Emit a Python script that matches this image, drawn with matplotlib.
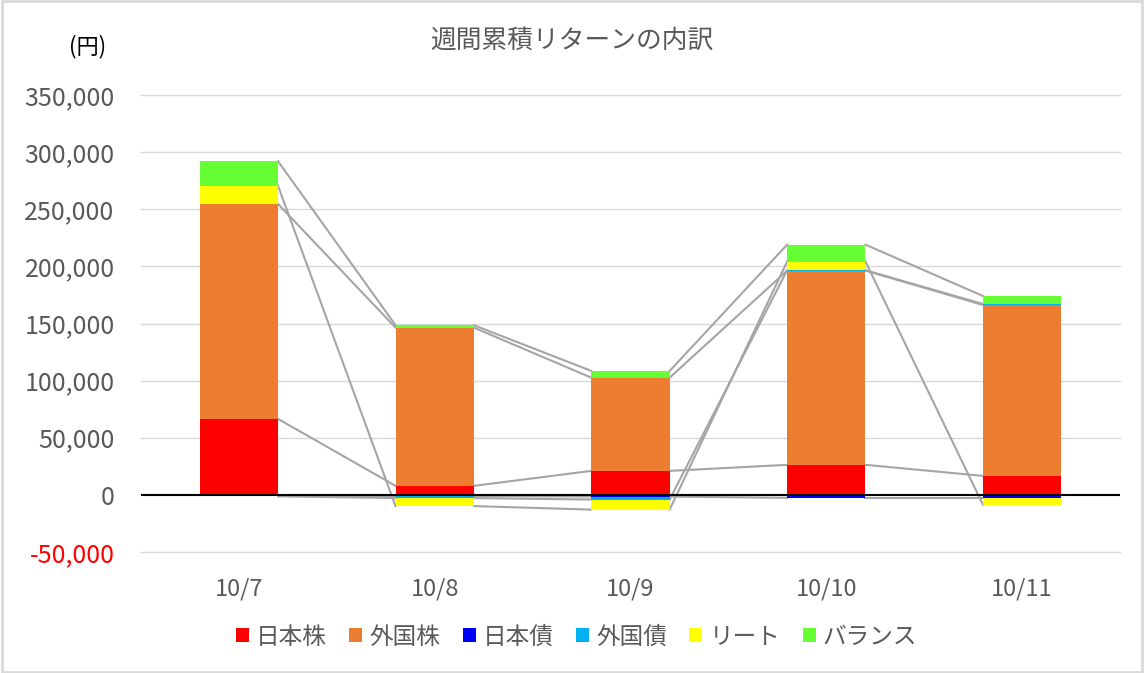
import matplotlib.pyplot as plt
import matplotlib.patches as patches
import matplotlib.ticker as mticker
import numpy as np

plt.rcParams['font.family'] = ['Noto Sans CJK JP', 'DejaVu Sans']

# data (円)
dates = ['10/7', '10/8', '10/9', '10/10', '10/11']
jp_stock = [66500, 7900, 21000, 26300, 16600]
fx_stock = [188100, 138500, 81600, 170000, 149600]
jp_bond = [-900, -1000, -1500, -2600, -2600]
fx_bond = [-400, -1800, -2600, 300, 900]
reit = [15800, -7000, -8800, 7600, -6000]
balance = [21600, 2100, 5900, 14800, 7000]

names = ['日本株', '外国株', '日本債', '外国債', 'リート', 'バランス']
series = [jp_stock, fx_stock, jp_bond, fx_bond, reit, balance]
colors = ['#FF0000', '#ED7D31', '#0000FF', '#00B0F0', '#FFFF00', '#66FF33']

fig = plt.figure(figsize=(11.44, 6.73), dpi=100)
ax = fig.add_axes([141/1144, 1-552/673, (1120-141)/1144, (552-95)/673])

x = np.arange(len(dates))
w = 0.4
pos = np.zeros(len(dates))
neg = np.zeros(len(dates))
ends = []
for name, vals, c in zip(names, series, colors):
    vals = np.array(vals, dtype=float)
    bottom = np.where(vals >= 0, pos, neg)
    ax.bar(x, vals, w, bottom=bottom, color=c, label=name, zorder=3)
    pos = pos + np.where(vals >= 0, vals, 0)
    neg = neg + np.where(vals < 0, vals, 0)
    ends.append(np.where(vals >= 0, pos, neg))

# series lines
for e in ends:
    for i in range(len(dates) - 1):
        ax.plot([x[i] + w/2, x[i+1] - w/2], [e[i], e[i+1]],
                color='#A5A5A5', lw=1.5, zorder=2)

yticks = list(range(-50000, 350001, 50000))
ax.set_xlim(-0.5, len(dates) - 0.5)
ax.set_ylim(-50000, 350000)
ax.set_yticks(yticks)
ax.yaxis.set_major_formatter(mticker.FuncFormatter(lambda v, p: f'{int(v):,}'))
for t in yticks:
    if t != 0:
        ax.axhline(t, color='#D9D9D9', lw=1, zorder=0, clip_on=False)
ax.axhline(0, color='black', lw=1.5, zorder=4)
for s in ax.spines.values():
    s.set_visible(False)
ax.tick_params(axis='both', length=0, colors='#595959')
ax.tick_params(axis='y', pad=19, labelsize=18)
ax.tick_params(axis='x', pad=18, labelsize=17)
ax.set_xticks(x)
ax.set_xticklabels(dates)
ax.yaxis.get_ticklabels()[0].set_color('red')

fig.text(0.5, 1-42/673, '週間累積リターンの内訳', ha='center', va='center',
         fontsize=18.5, color='#595959')
fig.text(88/1144, 1-47/673, '(円)', ha='center', va='center',
         fontsize=16, color='#000000')

fig.legend(loc='center', bbox_to_anchor=(0.504, 1-637/673), ncol=6, frameon=False,
           fontsize=17, handlelength=0.55, handleheight=0.55, handletextpad=0.3,
           columnspacing=0.95, labelcolor='#595959')

fig.patches.append(patches.Rectangle((0.002, 0.002), 0.996, 0.996, transform=fig.transFigure,
                                     fill=False, edgecolor='#D9D9D9', lw=2))

fig.savefig('out.png', dpi=100)
